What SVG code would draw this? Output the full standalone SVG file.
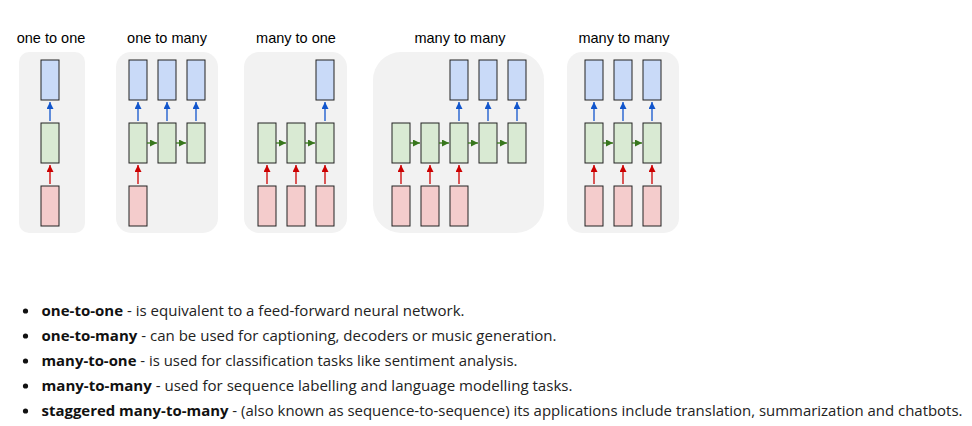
<svg xmlns="http://www.w3.org/2000/svg" width="972" height="426" viewBox="0 0 972 426">
<style>
.panel{fill:#f2f2f2}
.title{font-family:"Liberation Sans",Arial,sans-serif;font-size:14.5px;fill:#000;text-anchor:middle}
.out{fill:#c9daf8;stroke:#222;stroke-width:1}
.hid{fill:#d9ead3;stroke:#222;stroke-width:1}
.inp{fill:#f4cccc;stroke:#222;stroke-width:1}
.ab{stroke:#1155cc;stroke-width:1.3;fill:none;marker-end:url(#mb)}
.ar{stroke:#cc0000;stroke-width:1.3;fill:none;marker-end:url(#mr)}
.ag{stroke:#38761d;stroke-width:1.3;fill:none;marker-end:url(#mg)}
.li{font-family:"Open Sans","Noto Sans",sans-serif;font-size:14.5px;fill:#222}
.li tspan.b{font-weight:bold;fill:#111}
</style>
<defs>
<marker id="mb" markerUnits="userSpaceOnUse" markerWidth="8" markerHeight="8" refX="7" refY="3.5" orient="auto"><path d="M0,0 L7,3.5 L0,7 z" fill="#1155cc"/></marker>
<marker id="mr" markerUnits="userSpaceOnUse" markerWidth="8" markerHeight="8" refX="7" refY="3.5" orient="auto"><path d="M0,0 L7,3.5 L0,7 z" fill="#cc0000"/></marker>
<marker id="mg" markerUnits="userSpaceOnUse" markerWidth="8" markerHeight="8" refX="7" refY="3.5" orient="auto"><path d="M0,0 L7,3.5 L0,7 z" fill="#38761d"/></marker>
</defs>
<rect width="972" height="426" fill="#fff"/>

<g id="one-to-one">
<rect class="panel" x="19" y="52" width="66" height="181" rx="10"/>
<text class="title" x="51" y="43">one to one</text>
<rect class="out" x="41" y="60" width="18" height="40"/>
<rect class="hid" x="41" y="123" width="18" height="40"/>
<rect class="inp" x="41" y="186" width="18" height="40"/>
</g>

<g id="one-to-many">
<rect class="panel" x="116" y="52" width="102" height="181" rx="15"/>
<text class="title" x="167" y="43">one to many</text>
<rect class="out" x="129" y="60" width="18" height="40"/>
<rect class="out" x="158" y="60" width="18" height="40"/>
<rect class="out" x="187" y="60" width="18" height="40"/>
<rect class="hid" x="129" y="123" width="18" height="40"/>
<rect class="hid" x="158" y="123" width="18" height="40"/>
<rect class="hid" x="187" y="123" width="18" height="40"/>
<rect class="inp" x="129" y="186" width="18" height="40"/>
</g>

<g id="many-to-one">
<rect class="panel" x="244" y="52" width="103" height="181" rx="15"/>
<text class="title" x="296" y="43">many to one</text>
<rect class="out" x="316" y="60" width="18" height="40"/>
<rect class="hid" x="258" y="123" width="18" height="40"/>
<rect class="hid" x="287" y="123" width="18" height="40"/>
<rect class="hid" x="316" y="123" width="18" height="40"/>
<rect class="inp" x="258" y="186" width="18" height="40"/>
<rect class="inp" x="287" y="186" width="18" height="40"/>
<rect class="inp" x="316" y="186" width="18" height="40"/>
</g>

<g id="many-to-many-staggered">
<rect class="panel" x="373" y="52" width="171" height="181" rx="28"/>
<text class="title" x="460" y="43">many to many</text>
<rect class="out" x="450" y="60" width="18" height="40"/>
<rect class="out" x="479" y="60" width="18" height="40"/>
<rect class="out" x="508" y="60" width="18" height="40"/>
<rect class="hid" x="392" y="123" width="18" height="40"/>
<rect class="hid" x="421" y="123" width="18" height="40"/>
<rect class="hid" x="450" y="123" width="18" height="40"/>
<rect class="hid" x="479" y="123" width="18" height="40"/>
<rect class="hid" x="508" y="123" width="18" height="40"/>
<rect class="inp" x="392" y="186" width="18" height="40"/>
<rect class="inp" x="421" y="186" width="18" height="40"/>
<rect class="inp" x="450" y="186" width="18" height="40"/>
</g>

<g id="many-to-many-synced">
<rect class="panel" x="567" y="52" width="112" height="181" rx="15"/>
<text class="title" x="624" y="43">many to many</text>
<rect class="out" x="585" y="60" width="18" height="40"/>
<rect class="out" x="614" y="60" width="18" height="40"/>
<rect class="out" x="643" y="60" width="18" height="40"/>
<rect class="hid" x="585" y="123" width="18" height="40"/>
<rect class="hid" x="614" y="123" width="18" height="40"/>
<rect class="hid" x="643" y="123" width="18" height="40"/>
<rect class="inp" x="585" y="186" width="18" height="40"/>
<rect class="inp" x="614" y="186" width="18" height="40"/>
<rect class="inp" x="643" y="186" width="18" height="40"/>
</g>

<g id="connectors">
<!-- one to one -->
<line class="ab" x1="50" y1="121" x2="50" y2="102"/>
<line class="ar" x1="50" y1="184" x2="50" y2="165"/>
<!-- one to many -->
<line class="ab" x1="138" y1="121" x2="138" y2="102"/>
<line class="ab" x1="167" y1="121" x2="167" y2="102"/>
<line class="ab" x1="196" y1="121" x2="196" y2="102"/>
<line class="ar" x1="138" y1="184" x2="138" y2="165"/>
<line class="ag" x1="147" y1="143" x2="157" y2="143"/>
<line class="ag" x1="176" y1="143" x2="186" y2="143"/>
<!-- many to one -->
<line class="ab" x1="325" y1="121" x2="325" y2="102"/>
<line class="ar" x1="267" y1="184" x2="267" y2="165"/>
<line class="ar" x1="296" y1="184" x2="296" y2="165"/>
<line class="ar" x1="325" y1="184" x2="325" y2="165"/>
<line class="ag" x1="276" y1="143" x2="286" y2="143"/>
<line class="ag" x1="305" y1="143" x2="315" y2="143"/>
<!-- many to many staggered -->
<line class="ab" x1="459" y1="121" x2="459" y2="102"/>
<line class="ab" x1="488" y1="121" x2="488" y2="102"/>
<line class="ab" x1="517" y1="121" x2="517" y2="102"/>
<line class="ar" x1="401" y1="184" x2="401" y2="165"/>
<line class="ar" x1="430" y1="184" x2="430" y2="165"/>
<line class="ar" x1="459" y1="184" x2="459" y2="165"/>
<line class="ag" x1="410" y1="143" x2="420" y2="143"/>
<line class="ag" x1="439" y1="143" x2="449" y2="143"/>
<line class="ag" x1="468" y1="143" x2="478" y2="143"/>
<line class="ag" x1="497" y1="143" x2="507" y2="143"/>
<!-- many to many synced -->
<line class="ab" x1="594" y1="121" x2="594" y2="102"/>
<line class="ab" x1="623" y1="121" x2="623" y2="102"/>
<line class="ab" x1="652" y1="121" x2="652" y2="102"/>
<line class="ar" x1="594" y1="184" x2="594" y2="165"/>
<line class="ar" x1="623" y1="184" x2="623" y2="165"/>
<line class="ar" x1="652" y1="184" x2="652" y2="165"/>
<line class="ag" x1="603" y1="143" x2="613" y2="143"/>
<line class="ag" x1="632" y1="143" x2="642" y2="143"/>
</g>

<g id="list">
<circle cx="25.5" cy="311" r="2.6" fill="#111"/>
<circle cx="25.5" cy="336" r="2.6" fill="#111"/>
<circle cx="25.5" cy="361" r="2.6" fill="#111"/>
<circle cx="25.5" cy="386" r="2.6" fill="#111"/>
<circle cx="25.5" cy="411" r="2.6" fill="#111"/>
<text class="li" x="41.5" y="316" textLength="423" lengthAdjust="spacingAndGlyphs"><tspan class="b">one-to-one</tspan> - is equivalent to a feed-forward neural network.</text>
<text class="li" x="41.5" y="341" textLength="515" lengthAdjust="spacingAndGlyphs"><tspan class="b">one-to-many</tspan> - can be used for captioning, decoders or music generation.</text>
<text class="li" x="41.5" y="366" textLength="476" lengthAdjust="spacingAndGlyphs"><tspan class="b">many-to-one</tspan> - is used for classification tasks like sentiment analysis.</text>
<text class="li" x="41.5" y="391" textLength="531" lengthAdjust="spacingAndGlyphs"><tspan class="b">many-to-many</tspan> - used for sequence labelling and language modelling tasks.</text>
<text class="li" x="41.5" y="416" textLength="921" lengthAdjust="spacingAndGlyphs"><tspan class="b">staggered many-to-many</tspan> - (also known as sequence-to-sequence) its applications include translation, summarization and chatbots.</text>
</g>
</svg>
